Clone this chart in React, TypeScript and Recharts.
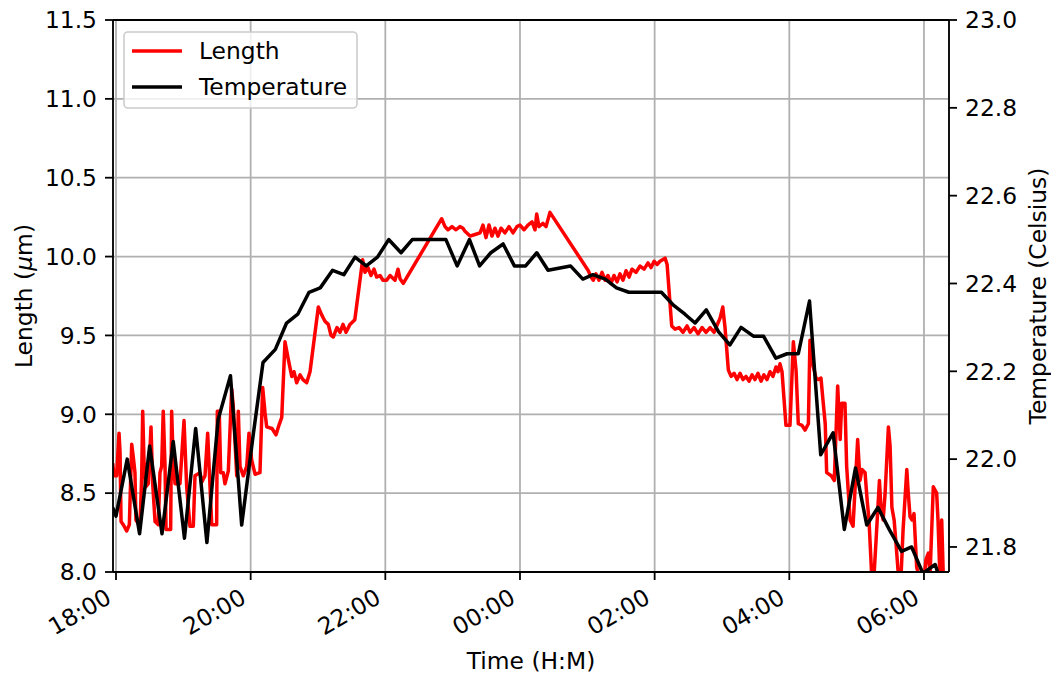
import { LineChart, Line, XAxis, YAxis, CartesianGrid, ReferenceLine } from 'recharts';

const FONT = '"DejaVu Sans", sans-serif';
const FS = 23.4;

// x axis: minutes after 18:00
const timeTicks = [0, 120, 240, 360, 480, 600, 720];
const timeLabels = ['18:00', '20:00', '22:00', '00:00', '02:00', '04:00', '06:00'];
const lengthTicks = [8.0, 8.5, 9.0, 9.5, 10.0, 10.5, 11.0, 11.5];
const tempTicks = [21.8, 22.0, 22.2, 22.4, 22.6, 22.8, 23.0];

// [minutes after 18:00, length in µm]
const lengthReadings: [number, number][] = [
  [-2.9, 8.69], [-1.8, 8.61], [0.6, 8.61], [2.7, 8.88], [3.6, 8.76], [4.5, 8.32], [6.5, 8.3], [9.5, 8.26],
  [11.9, 8.3], [14, 8.81], [15.4, 8.73], [16.9, 8.63], [17.8, 8.33], [21.4, 8.29], [22.9, 8.61], [23.8, 9.02],
  [25, 8.69], [26.5, 8.54], [28.8, 8.56], [31.2, 8.92], [32.7, 8.56], [34.8, 8.32], [37.7, 8.3], [39.2, 8.63],
  [40.7, 8.67], [42.1, 9.02], [43.7, 8.67], [44.6, 8.27], [48.7, 8.27], [49.6, 9.02], [51.1, 8.67], [52.6, 8.56],
  [57, 8.56], [60.6, 8.96], [63, 8.54], [65.9, 8.29], [68.9, 8.29], [70.4, 8.61], [74.9, 8.63], [76.4, 8.57],
  [79.3, 8.61], [81.7, 8.88], [83.8, 8.54], [85.3, 8.3], [89.7, 8.3], [90.3, 9.02], [92, 9.02], [93.3, 8.63],
  [95.6, 8.63], [97.1, 8.56], [100.1, 8.64], [103.1, 9.16], [104.5, 9.05], [107.6, 8.61], [109, 9.02], [110.5, 8.67],
  [113.4, 8.61], [116.5, 8.67], [118.5, 8.88], [120.9, 8.71], [123.9, 8.62], [128.3, 8.63], [130.7, 9.17], [132.8, 9.01],
  [134.3, 8.92], [139, 8.91], [142.6, 8.87], [145.2, 8.93], [147.7, 8.98], [150.6, 9.46], [153.5, 9.35], [156.6, 9.24],
  [158.6, 9.27], [161, 9.2], [164, 9.25], [166.6, 9.22], [169.9, 9.2], [172.9, 9.27], [180.3, 9.68], [183.3, 9.63],
  [186.2, 9.59], [189.2, 9.57], [191.6, 9.5], [193.6, 9.49], [196.9, 9.55], [199.6, 9.52], [202.3, 9.57], [205, 9.52],
  [208.5, 9.57], [212.8, 9.6], [219.8, 9.98], [221.9, 9.9], [224.6, 9.93], [227.2, 9.88], [229.9, 9.92], [232.3, 9.87],
  [235.3, 9.88], [237.9, 9.85], [241.2, 9.85], [244.2, 9.88], [248.6, 9.85], [251.3, 9.92], [253.1, 9.86], [256, 9.83],
  [290.2, 10.24], [293.2, 10.19], [295.8, 10.17], [299.4, 10.19], [303, 10.17], [306.5, 10.19], [309.2, 10.18], [311, 10.16],
  [315.5, 10.13], [319.9, 10.14], [324.4, 10.15], [327, 10.2], [329.7, 10.12], [332.4, 10.2], [335, 10.13], [337.7, 10.18],
  [340.4, 10.13], [343.1, 10.18], [346.6, 10.15], [350.2, 10.19], [353.8, 10.15], [357.3, 10.19], [360, 10.2], [363.6, 10.17],
  [367.1, 10.2], [370.7, 10.22], [373.4, 10.17], [374.9, 10.27], [376.9, 10.19], [380.5, 10.21], [383.2, 10.19], [386.7, 10.28],
  [420.9, 9.91], [423.3, 9.87], [425.3, 9.85], [427.7, 9.89], [430.4, 9.85], [433.1, 9.9], [435.8, 9.85], [438.4, 9.88],
  [441.1, 9.83], [443.8, 9.88], [446.5, 9.84], [449.1, 9.89], [451.8, 9.85], [454.5, 9.91], [457.2, 9.87], [459.8, 9.92],
  [463.4, 9.9], [467, 9.94], [470.6, 9.92], [474.1, 9.96], [476.8, 9.93], [479.5, 9.97], [482.2, 9.95], [484.8, 9.97],
  [489.3, 9.99], [491.1, 9.95], [495.2, 9.56], [498.2, 9.54], [501.8, 9.55], [505.3, 9.52], [508.9, 9.56], [511.6, 9.52],
  [515.1, 9.55], [518.7, 9.51], [522.3, 9.55], [525.8, 9.52], [529.4, 9.55], [533, 9.52], [535.3, 9.56], [538.3, 9.61],
  [540.7, 9.68], [542.7, 9.55], [545.7, 9.28], [548.1, 9.24], [550.8, 9.26], [553.4, 9.22], [556.1, 9.26], [558.7, 9.22],
  [561.4, 9.24], [564.1, 9.21], [566.8, 9.25], [569.4, 9.22], [572.1, 9.26], [574.8, 9.21], [577.4, 9.25], [580.1, 9.22],
  [582.8, 9.27], [585.4, 9.24], [588.1, 9.3], [589.9, 9.27], [591.7, 9.32], [593.5, 9.27], [597, 8.93], [600.6, 8.93],
  [603.6, 9.46], [606, 9.28], [608, 8.94], [611.3, 8.93], [614, 8.9], [617, 8.94], [618.4, 9.47], [621.1, 9.31],
  [623.8, 9.23], [625.8, 9.22], [628.2, 9.23], [630, 9.09], [632, 8.94], [633.3, 8.63], [637.4, 8.61], [640.1, 8.58],
  [643.1, 9.18], [645.3, 8.84], [646.7, 9.07], [649.6, 9.07], [651.1, 8.67], [654.2, 8.33], [656.8, 8.29], [660.9, 8.84],
  [663, 8.58], [664.8, 8.65], [667.5, 8.63], [669.3, 8.46], [671, 8.33], [673.4, 7.98], [675.5, 7.98], [677.3, 8.2],
  [680.3, 8.58], [681.8, 8.39], [683.6, 8.33], [685.3, 8.49], [688.3, 8.92], [689.8, 8.8], [691.4, 8.41], [693.4, 8.33],
  [695.2, 8.17], [697.2, 7.98], [699.6, 7.98], [701.4, 8.27], [704.7, 8.65], [705.8, 8.52], [707.6, 8.35], [709.4, 8.33],
  [711.1, 8.37], [713.5, 8.03], [716.5, 7.95], [720, 7.95], [721.8, 8.08], [723.9, 8.12], [725.4, 7.98], [728.3, 8.54],
  [731.3, 8.5], [732.5, 8.33], [734.3, 7.95], [735.8, 8.33], [737.3, 7.95],
];

// [minutes after 18:00, temperature in °C]
const temperatureReadings: [number, number][] = [
  [-3, 21.89], [0, 21.87], [10, 22.0], [21, 21.83], [30, 22.03], [41, 21.83], [51, 22.04], [61, 21.82],
  [71, 22.07], [81, 21.81], [91, 22.09], [102, 22.19], [112, 21.85], [122, 22.05], [131, 22.22], [142, 22.25],
  [152, 22.31], [162, 22.33], [172, 22.38], [182, 22.39], [193, 22.43], [203, 22.42], [213, 22.46], [223, 22.44],
  [233, 22.46], [243, 22.5], [254, 22.47], [264, 22.5], [274, 22.5], [284, 22.5], [294, 22.5], [304, 22.44],
  [315, 22.5], [324, 22.44], [334, 22.47], [345, 22.49], [355, 22.44], [365, 22.44], [375, 22.47], [385, 22.43],
  [405, 22.44], [416, 22.41], [425, 22.42], [436, 22.41], [446, 22.39], [457, 22.38], [467, 22.38], [477, 22.38],
  [486, 22.38], [497, 22.35], [507, 22.33], [516, 22.31], [526, 22.34], [537, 22.29], [547, 22.26], [557, 22.3],
  [568, 22.28], [577, 22.28], [588, 22.23], [598, 22.24], [608, 22.24], [618, 22.36], [628, 22.01], [639, 22.06],
  [649, 21.84], [659, 21.98], [669, 21.85], [679, 21.89], [689, 21.84], [700, 21.79], [709, 21.8], [719, 21.74],
  [730, 21.76], [740, 21.68],
];

const lengthData = lengthReadings.map(([t, v]) => ({ t, length: v }));
const tempData = temperatureReadings.map(([t, v]) => ({ t, temp: v }));

const TimeTick = (props: any) => {
  const { x, y, payload } = props;
  const idx = timeTicks.indexOf(payload.value);
  const ax = x - 3;
  const ay = y + 20;
  return (
    <text x={ax} y={ay} textAnchor="end" fontSize={FS} fontFamily={FONT} fill="#000"
      transform={`rotate(-30, ${ax}, ${ay})`}>
      {timeLabels[idx]}
    </text>
  );
};

const tickStyle = { fill: '#000', fontSize: FS, fontFamily: FONT };
const axisStroke = { stroke: '#000', strokeWidth: 1.8 };

export default function App() {
  return (
    <div style={{ position: 'absolute', left: 0, top: 0, width: 1051, height: 675, background: '#fff' }}>
      <LineChart width={1051} height={675} margin={{ top: 20, right: 2, bottom: 0, left: 0 }}>
        <CartesianGrid yAxisId="left" stroke="#b0b0b0" strokeWidth={1.8} />
        <XAxis
          dataKey="t"
          type="number"
          domain={[-2.67, 742.3]}
          ticks={timeTicks}
          allowDataOverflow
          height={103}
          tick={<TimeTick />}
          tickSize={8}
          tickMargin={2}
          tickLine={axisStroke}
          axisLine={axisStroke}
        />
        <YAxis
          yAxisId="left"
          domain={[8, 11.5]}
          ticks={lengthTicks}
          allowDataOverflow
          width={113}
          tick={tickStyle}
          tickFormatter={(v: number) => v.toFixed(1)}
          tickSize={8}
          tickMargin={8}
          tickLine={axisStroke}
          axisLine={axisStroke}
        />
        <YAxis
          yAxisId="right"
          orientation="right"
          domain={[21.743, 23.0]}
          ticks={tempTicks}
          allowDataOverflow
          width={100}
          tick={tickStyle}
          tickFormatter={(v: number) => v.toFixed(1)}
          tickSize={8}
          tickMargin={8}
          tickLine={axisStroke}
          axisLine={axisStroke}
        />
        <ReferenceLine yAxisId="left" y={11.5} stroke="#000" strokeWidth={1.8} />
        <Line yAxisId="left" data={lengthData} dataKey="length" name="Length" stroke="#ff0000"
          strokeWidth={3.5} dot={false} isAnimationActive={false} strokeLinejoin="round" />
        <Line yAxisId="right" data={tempData} dataKey="temp" name="Temperature" stroke="#000000"
          strokeWidth={3.5} dot={false} isAnimationActive={false} strokeLinejoin="round" />
        <g transform="translate(123, 31)">
          <rect x={1} y={1} width={233} height={76} rx={4} fill="rgba(255,255,255,0.8)" stroke="#cccccc" strokeWidth={1.6} />
          <line x1={9} x2={59} y1={20} y2={20} stroke="#ff0000" strokeWidth={3.5} />
          <text x={76} y={28} fontSize={FS} fontFamily={FONT} fill="#000">Length</text>
          <line x1={9} x2={59} y1={56} y2={56} stroke="#000" strokeWidth={3.5} />
          <text x={76} y={64} fontSize={FS} fontFamily={FONT} fill="#000">Temperature</text>
        </g>
        <text x={24} y={296} textAnchor="middle" dominantBaseline="central" fontSize={FS} fontFamily={FONT}
          fill="#000" transform="rotate(-90, 24, 296)">
          Length (<tspan fontStyle="italic">μ</tspan>m)
        </text>
        <text x={1038} y={296} textAnchor="middle" dominantBaseline="central" fontSize={FS} fontFamily={FONT}
          fill="#000" transform="rotate(-90, 1038, 296)">
          Temperature (Celsius)
        </text>
        <text x={531} y={669} textAnchor="middle" fontSize={FS} fontFamily={FONT} fill="#000">
          Time (H:M)
        </text>
      </LineChart>
    </div>
  );
}
